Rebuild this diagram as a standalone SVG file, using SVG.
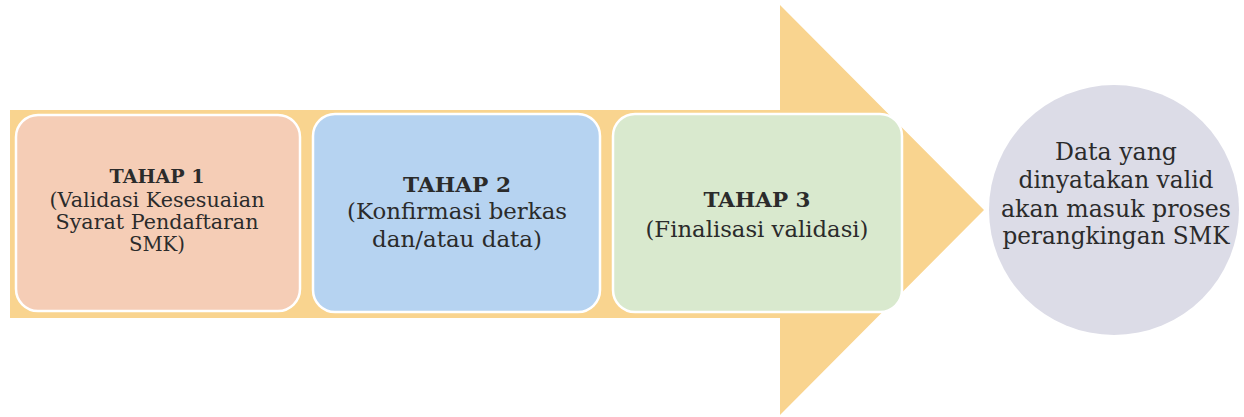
<svg xmlns="http://www.w3.org/2000/svg" width="1244" height="417" viewBox="0 0 1244 417">
  <style>
    .box { stroke: #ffffff; stroke-width: 2.5; }
    .t { font-family: "DejaVu Serif", "Liberation Serif", serif; fill: #2b2b2b; text-anchor: middle; }
    .b { font-weight: bold; }
  </style>
  <rect x="0" y="0" width="1244" height="417" fill="#ffffff"/>
  <g id="arrow">
    <polygon points="10,110 780,110 780,5 984,210 780,415 780,318 10,318" fill="#f9d48f"/>
  </g>
  <g id="tahap1">
    <rect class="box" x="16" y="115" width="284" height="196" rx="22" fill="#f5cdb6"/>
    <text class="t b" x="157" y="183" font-size="18" textLength="95" lengthAdjust="spacingAndGlyphs">TAHAP 1</text>
    <text class="t" x="157" y="207" font-size="19.5" textLength="215" lengthAdjust="spacingAndGlyphs">(Validasi Kesesuaian</text>
    <text class="t" x="157" y="229" font-size="19.5" textLength="203" lengthAdjust="spacingAndGlyphs">Syarat Pendaftaran</text>
    <text class="t" x="157" y="251" font-size="19.5" textLength="56" lengthAdjust="spacingAndGlyphs">SMK)</text>
  </g>
  <g id="tahap2">
    <rect class="box" x="313" y="114" width="287" height="198" rx="22" fill="#b6d3f1"/>
    <text class="t b" x="457" y="192" font-size="21" textLength="108" lengthAdjust="spacingAndGlyphs">TAHAP 2</text>
    <text class="t" x="457" y="219" font-size="22" textLength="220" lengthAdjust="spacingAndGlyphs">(Konfirmasi berkas</text>
    <text class="t" x="457" y="247" font-size="22" textLength="170" lengthAdjust="spacingAndGlyphs">dan/atau data)</text>
  </g>
  <g id="tahap3">
    <rect class="box" x="613" y="114" width="289" height="198" rx="22" fill="#d9e9ce"/>
    <text class="t b" x="757" y="207" font-size="21" textLength="107" lengthAdjust="spacingAndGlyphs">TAHAP 3</text>
    <text class="t" x="757" y="237" font-size="22" textLength="223" lengthAdjust="spacingAndGlyphs">(Finalisasi validasi)</text>
  </g>
  <g id="hasil">
    <circle cx="1114" cy="210" r="125" fill="#dcdce7"/>
    <text class="t" x="1116" y="160" font-size="23.5" textLength="122" lengthAdjust="spacingAndGlyphs">Data yang</text>
    <text class="t" x="1116" y="188" font-size="23.5" textLength="195" lengthAdjust="spacingAndGlyphs">dinyatakan valid</text>
    <text class="t" x="1116" y="217" font-size="23.5" textLength="230" lengthAdjust="spacingAndGlyphs">akan masuk proses</text>
    <text class="t" x="1116" y="244" font-size="23.5" textLength="227" lengthAdjust="spacingAndGlyphs">perangkingan SMK</text>
  </g>
  <g id="connectors"></g>
</svg>
